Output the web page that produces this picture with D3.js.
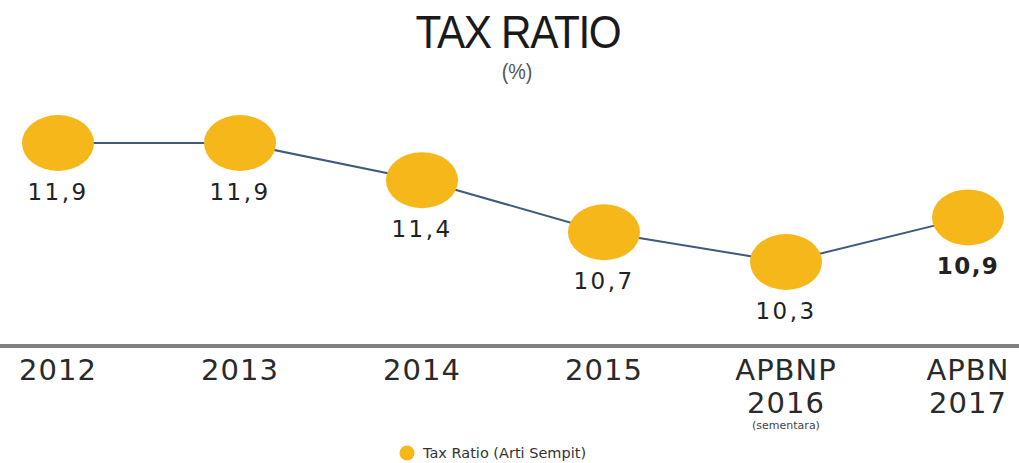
<!DOCTYPE html>
<html>
<head>
<meta charset="utf-8">
<script src="https://cdn.jsdelivr.net/npm/d3@7"></script>
<style>
  body { margin: 0; background: #fff; }
  svg { display: block; }
</style>
</head>
<body>
<div id="graf"></div>
<script>
// datos
const categorias = ['2012', '2013', '2014', '2015', 'APBNP 2016', 'APBN 2017']
const etiquetas1 = ['2012', '2013', '2014', '2015', 'APBNP', 'APBN']
const etiquetas2 = ['', '', '', '', '2016', '2017']
const notas = ['', '', '', '', '(sementara)', '']
const taxRatio = [11.9, 11.9, 11.4, 10.7, 10.3, 10.9]
const textos = ['11,9', '11,9', '11,4', '10,7', '10,3', '10,9']

const ancho = 1019, alto = 463

const svg = d3.select('#graf').append('svg')
  .attr('width', ancho)
  .attr('height', alto)

// escalas
const x = d3.scalePoint().domain(categorias).range([58, 968])
const y = d3.scaleLinear().domain([10.3, 11.9]).range([262, 143])

// titulo (angosto, como el original)
svg.append('text')
  .attr('transform', 'translate(518, 48) scale(0.9, 1)')
  .attr('text-anchor', 'middle')
  .style('font-family', '"Liberation Sans", sans-serif')
  .style('font-size', '47px')
  .style('letter-spacing', '-1.5px')
  .style('fill', '#1a1a1a')
  .text('TAX RATIO')

svg.append('text')
  .attr('transform', 'translate(517, 79) scale(0.9, 1)')
  .attr('text-anchor', 'middle')
  .style('font-family', '"Liberation Sans", sans-serif')
  .style('font-size', '22px')
  .style('fill', '#555')
  .text('(%)')

// linea
const linea = d3.line().x((d, i) => x(categorias[i])).y(d => y(d))
svg.append('path')
  .datum(taxRatio)
  .attr('d', linea)
  .attr('fill', 'none')
  .attr('stroke', '#3e5a7e')
  .attr('stroke-width', 2)

// puntos
svg.selectAll('ellipse.punto')
  .data(taxRatio)
  .enter().append('ellipse')
  .attr('class', 'punto')
  .attr('cx', (d, i) => x(categorias[i]))
  .attr('cy', d => y(d))
  .attr('rx', 36)
  .attr('ry', 28)
  .attr('fill', '#f5b719')

// valores
svg.selectAll('text.valor')
  .data(taxRatio)
  .enter().append('text')
  .attr('class', 'valor')
  .attr('x', (d, i) => x(categorias[i]))
  .attr('y', (d, i) => y(d) + 57)
  .attr('text-anchor', 'middle')
  .style('font-family', '"DejaVu Sans", sans-serif')
  .style('font-size', '23px')
  .style('font-weight', (d, i) => i === 5 ? 'bold' : 'normal')
  .style('letter-spacing', (d, i) => i === 5 ? '1.5px' : '2.5px')
  .style('fill', '#222')
  .text((d, i) => textos[i])

// eje
svg.append('line')
  .attr('x1', 0).attr('x2', ancho)
  .attr('y1', 346).attr('y2', 346)
  .attr('stroke', '#808080')
  .attr('stroke-width', 4)

svg.selectAll('text.cat1')
  .data(categorias).enter().append('text')
  .attr('x', d => x(d)).attr('y', 380)
  .attr('text-anchor', 'middle')
  .style('font-family', '"DejaVu Sans", sans-serif')
  .style('font-size', '29px')
  .style('letter-spacing', '1px')
  .style('fill', '#2a2a2a')
  .text((d, i) => etiquetas1[i])

svg.selectAll('text.cat2')
  .data(categorias).enter().append('text')
  .attr('x', d => x(d)).attr('y', 413)
  .attr('text-anchor', 'middle')
  .style('font-family', '"DejaVu Sans", sans-serif')
  .style('font-size', '29px')
  .style('letter-spacing', '1px')
  .style('fill', '#2a2a2a')
  .text((d, i) => etiquetas2[i])

svg.selectAll('text.nota')
  .data(categorias).enter().append('text')
  .attr('x', d => x(d)).attr('y', 429)
  .attr('text-anchor', 'middle')
  .style('font-family', '"DejaVu Sans", sans-serif')
  .style('font-size', '11px')
  .style('fill', '#444')
  .text((d, i) => notas[i])

// leyenda
svg.append('circle')
  .attr('cx', 407).attr('cy', 453).attr('r', 7.5)
  .attr('fill', '#f5b719')
svg.append('text')
  .attr('x', 423).attr('y', 458)
  .style('font-family', '"DejaVu Sans", sans-serif')
  .style('font-size', '14.5px')
  .style('fill', '#333')
  .text('Tax Ratio (Arti Sempit)')
</script>
</body>
</html>
